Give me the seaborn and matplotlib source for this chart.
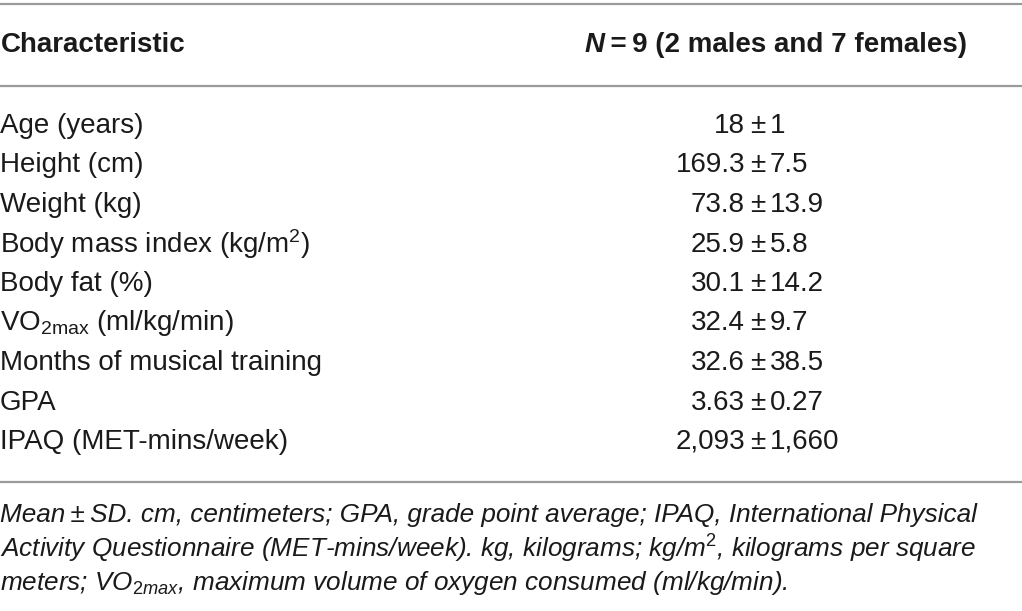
import matplotlib
matplotlib.use("Agg")
import matplotlib.pyplot as plt
import seaborn as sns

sns.set_theme(style="white")
plt.rcParams["font.family"] = ["Liberation Sans", "DejaVu Sans"]
plt.rcParams["mathtext.fontset"] = "custom"
plt.rcParams["mathtext.rm"] = "Liberation Sans"
plt.rcParams["mathtext.it"] = "Liberation Sans:italic"
plt.rcParams["mathtext.bf"] = "Liberation Sans:bold"

# table content
header_left = "Characteristic"
header_n = "N"
header_rest = "\u2009=\u20099 (2 males and 7 females)"
characteristics = ["Age (years)", "Height (cm)", "Weight (kg)",
                   r"Body mass index (kg/m$^2$)", "Body fat (%)",
                   r"VO$_{\mathrm{2max}}$ (ml/kg/min)",
                   "Months of musical training", "GPA", "IPAQ (MET-mins/week)"]
means = ["18", "169.3", "73.8", "25.9", "30.1", "32.4", "32.6", "3.63", "2,093"]
sds = ["1", "7.5", "13.9", "5.8", "14.2", "9.7", "38.5", "0.27", "1,660"]
footnote = [
    "Mean\u2009\u00b1\u2009SD. cm, centimeters; GPA, grade point average; IPAQ, International Physical",
    r"Activity Questionnaire (MET-mins/week). kg, kilograms; kg/m$^2$, kilograms per square",
    r"meters; VO$_{\mathit{2max}}$, maximum volume of oxygen consumed (ml/kg/min).",
]

W, H = 1022, 611
fig = plt.figure(figsize=(W / 100, H / 100), dpi=100)
ax = fig.add_axes([0, 0, 1, 1])
ax.set_xlim(0, W)
ax.set_ylim(H, 0)
ax.axis("off")

fs = 20
ink = "#1a1a1a"
rule = "#9a9a9a"
for y in [4, 86, 482]:
    ax.axhline(y, color=rule, lw=1.6)

# header
ax.text(1, 45, header_left, fontsize=fs, fontweight="bold", va="center", ha="left", color=ink)
rest = ax.text(967, 45, header_rest, fontsize=fs, fontweight="bold", va="center", ha="right", color=ink)
ax.annotate(header_n, xy=(0, 0), xycoords=rest, va="bottom", ha="right",
            fontsize=fs, fontweight="bold", style="italic", color=ink)

# body rows
row0, step = 126, 39.5
for i, (c, m, s) in enumerate(zip(characteristics, means, sds)):
    y = row0 + i * step
    ax.text(0, y, c, fontsize=fs, va="center", ha="left", color=ink)
    ax.text(745, y, m, fontsize=fs, va="center", ha="right", color=ink)
    ax.text(757.5, y, "\u00b1", fontsize=fs, va="center", ha="center", color=ink)
    ax.text(770, y, s, fontsize=fs, va="center", ha="left", color=ink)

# footnote
for i, line in enumerate(footnote):
    ax.text(0, 515 + i * 34, line, fontsize=18.8, style="italic", va="center", ha="left", color=ink)

fig.savefig("out.png", dpi=100, facecolor="white")
